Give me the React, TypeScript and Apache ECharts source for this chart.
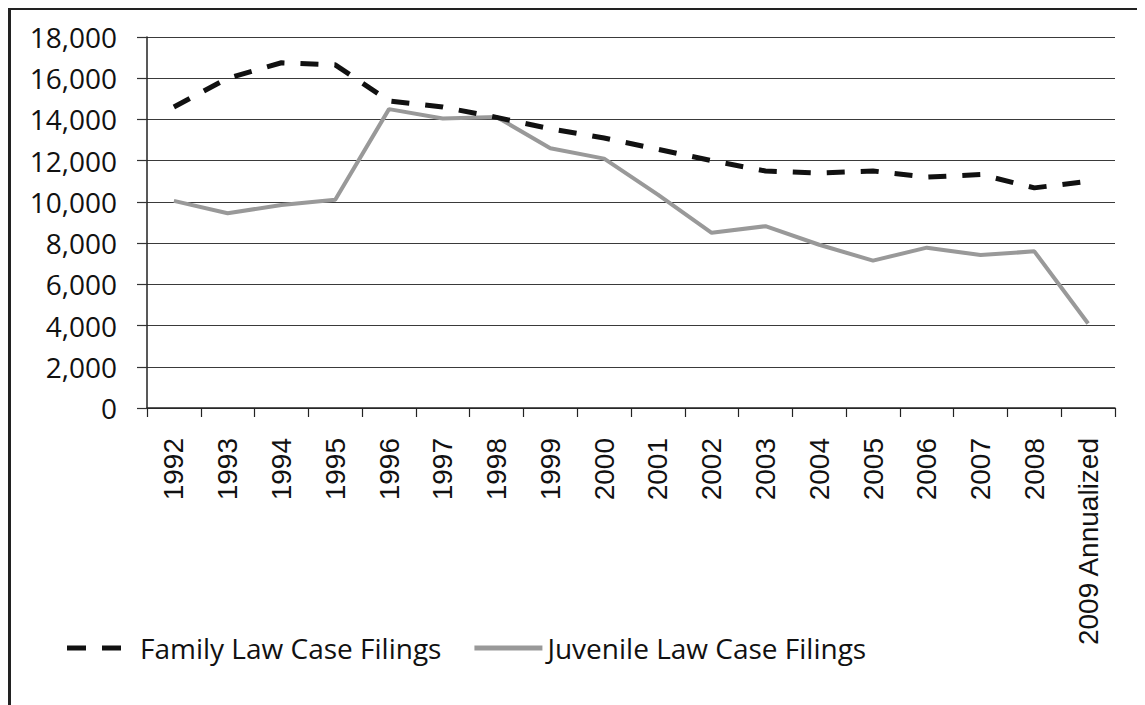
import React, { useEffect, useRef } from "react";
import * as echarts from "echarts";

const categories = [
  "1992", "1993", "1994", "1995", "1996", "1997", "1998", "1999", "2000",
  "2001", "2002", "2003", "2004", "2005", "2006", "2007", "2008", "2009 Annualized",
];
const familyFilings = [
  14600, 16000, 16750, 16650, 14900, 14600, 14100, 13550, 13100,
  12550, 12000, 11500, 11400, 11500, 11200, 11330, 10680, 11000,
];
const juvenileFilings = [
  10050, 9450, 9850, 10100, 14500, 14050, 14120, 12600, 12100,
  10350, 8500, 8820, 7920, 7150, 7780, 7420, 7600, 4100,
];
const seriesNames = ["Family Law Case Filings", "Juvenile Law Case Filings"];
const yTicks = { min: 0, max: 18000, interval: 2000 };

export default function App() {
  const ref = useRef<HTMLDivElement>(null);
  useEffect(() => {
    if (!ref.current) return;
    const chart = echarts.init(ref.current, undefined, { renderer: "svg" });
    chart.setOption({
      animation: false,
      backgroundColor: "#ffffff",
      grid: { left: 136, top: 27, width: 968, height: 371, containLabel: false },
      legend: {
        left: 51,
        top: 619,
        itemWidth: 68,
        itemHeight: 5,
        itemGap: 33,
        textStyle: { fontFamily: "Open Sans", fontSize: 28, color: "#111" },
        data: [
          {
            name: seriesNames[0],
            icon: "path://M0,0h19v5h-19zM35,0h19v5h-19zM67.8,2.4h0.2v0.2h-0.2z",
            itemStyle: { color: "#111" },
          },
          { name: seriesNames[1], icon: "rect", itemStyle: { color: "#999" } },
        ],
      },
      xAxis: {
        type: "category",
        data: categories,
        boundaryGap: true,
        axisLine: { show: true, lineStyle: { color: "#222", width: 1.5 } },
        axisTick: { show: true, length: 9, lineStyle: { color: "#222", width: 1.2 } },
        axisLabel: {
          rotate: 90,
          interval: 0,
          margin: 30,
          fontFamily: "Liberation Sans",
          fontSize: 28,
          color: "#111",
        },
        splitLine: { show: false },
      },
      yAxis: {
        type: "value",
        min: yTicks.min,
        max: yTicks.max,
        interval: yTicks.interval,
        axisLine: { show: true, lineStyle: { color: "#222", width: 1.5 } },
        axisTick: { show: true, length: 10, lineStyle: { color: "#333", width: 1.2 } },
        axisLabel: {
          margin: 30,
          fontFamily: "Open Sans",
          fontSize: 28,
          color: "#111",
          formatter: (v: number) => v.toLocaleString("en-US"),
        },
        splitLine: { show: true, lineStyle: { color: "#3a3a3a", width: 1.2 } },
      },
      series: [
        {
          name: seriesNames[0],
          type: "line",
          data: familyFilings,
          symbol: "none",
          lineStyle: { color: "#111", width: 5, type: [18, 16] },
          itemStyle: { color: "#111" },
          z: 3,
        },
        {
          name: seriesNames[1],
          type: "line",
          data: juvenileFilings,
          symbol: "none",
          lineStyle: { color: "#999", width: 4 },
          itemStyle: { color: "#999" },
          z: 2,
        },
      ],
    });
    return () => chart.dispose();
  }, []);
  return (
    <div
      style={{
        width: 1137,
        height: 697,
        borderLeft: "3px solid #222",
        borderTop: "2px solid #222",
        boxSizing: "border-box",
        background: "#fff",
      }}
    >
      <div ref={ref} style={{ width: 1134, height: 695 }} />
    </div>
  );
}
